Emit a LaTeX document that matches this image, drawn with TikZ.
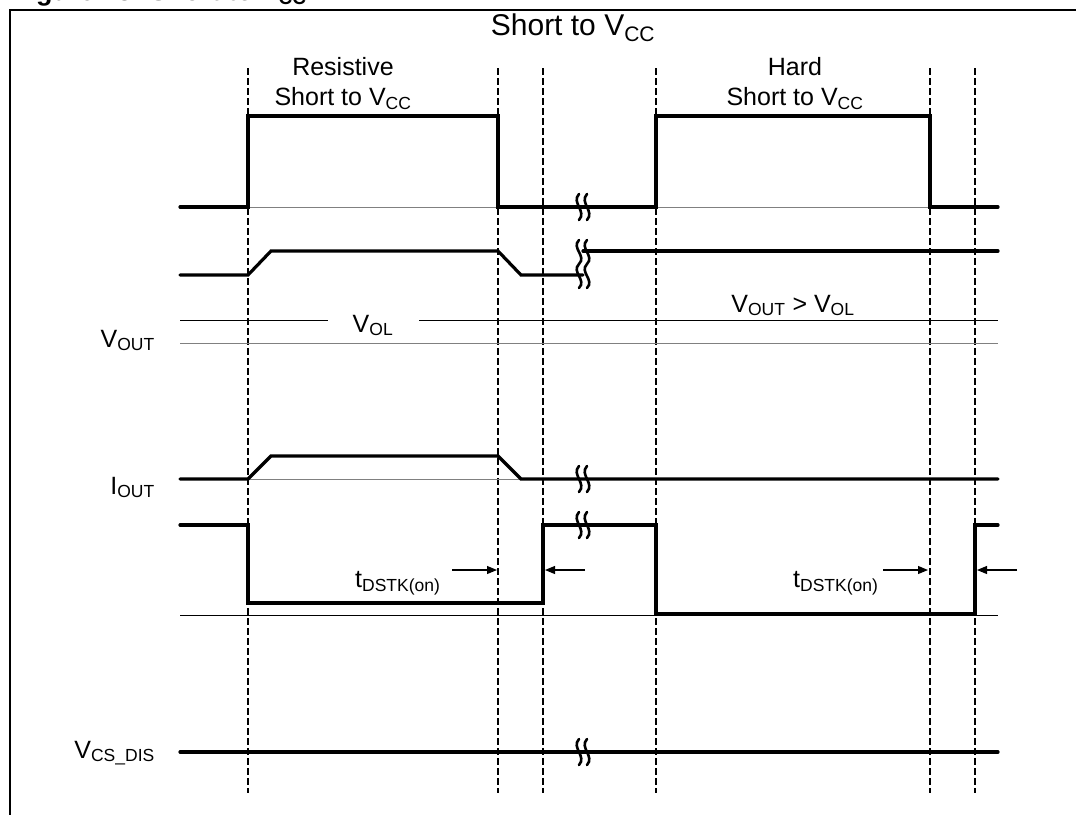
\documentclass[tikz,border=0pt]{standalone}
\usepackage{fontspec}
\setmainfont{Liberation Sans}
\usetikzlibrary{arrows.meta}

\newcommand*{\xMin}{180}
\newcommand*{\xMax}{998}
\newcommand*{\xBrk}{583}
\newcommand*{\yMin}{68}
\newcommand*{\yMax}{793}

% two little s-curves: x, y, half height
\newcommand*{\wavebreak}[3]{%
    \foreach \k in {-4,4} {
        \draw [brk] (#1+\k,#2-#3) .. controls (#1+\k-8,#2-#3/3) and (#1+\k+8,#2+#3/3) .. (#1+\k,#2+#3) ;
    }
}

\begin{document}
\begin{tikzpicture}[x=1pt,y=-1pt,
    sig/.style={line width=3.2pt,line cap=round,line join=miter},
    zeroline/.style={line width=0.9pt,gray},
    refline/.style={line width=1pt},
    tline/.style={line width=1.6pt,dash pattern=on 7pt off 3pt},
    brk/.style={line width=2.6pt,line cap=round},
    tarrow/.style={line width=1.1pt,-{Triangle[length=10pt,width=8pt]}},
    lbl/.style={font=\fontsize{25}{30}\selectfont,inner sep=0pt},
    ttl/.style={font=\fontsize{30}{36}\selectfont,inner sep=0pt}]

    \useasboundingbox (0,0) rectangle (1076,814);

    % frame and the cut caption
    \draw [line width=2.4pt] (10,830) -- (10,10) -- (1090,10) ;
    \node [anchor=base west,inner sep=0pt,font=\bfseries\fontsize{27}{32}\selectfont] (caption) at (12,0) {Figure 13. Short to V\textsubscript{CC}};

    % dashed time marks
    \foreach \x in {248,498,543,656,930,975} {
        \draw [tline] (\x,\yMin) -- (\x,\yMax) ;
    }

    \node [ttl,anchor=base] (title) at (573,35) {Short to V\textsubscript{CC}};
    \node [lbl,anchor=north,align=center] (resistive) at (343,57) {Resistive\\Short to V\textsubscript{CC}};
    \node [lbl,anchor=north,align=center] (hard) at (795,57) {Hard\\Short to V\textsubscript{CC}};

    \node [lbl,anchor=base east] (vout) at (155,347) {V\textsubscript{OUT}};
    \node [lbl,anchor=base east] (iout) at (155,494) {I\textsubscript{OUT}};
    \node [lbl,anchor=base east] (vcsdis) at (155,758) {V\textsubscript{CS\_DIS}};

    % top trace
    \draw [zeroline] (248,207) -- (498,207) (656,207) -- (930,207) ;
    \draw [sig] (\xMin,207) -- (248,207) -- (248,116) -- (498,116) -- (498,207) -- (656,207) -- (656,116) -- (930,116) -- (930,207) -- (\xMax,207) ;
    \wavebreak{\xBrk}{207}{13}

    % second trace
    \draw [sig] (\xMin,275) -- (248,275) -- (271,251) -- (498,251) -- (521,275) -- (\xBrk,275) ;
    \draw [sig] (\xBrk,251) -- (\xMax,251) ;
    \wavebreak{\xBrk}{252}{12}
    \wavebreak{\xBrk}{276}{12}

    % V_OL level
    \node [lbl,anchor=base] (vol) at (373,332) {V\textsubscript{OL}};
    \draw [refline] (\xMin,320) -- (328,320) (419,320) -- (\xMax,320) ;
    \node [lbl,anchor=base] (voutgt) at (793,312) {V\textsubscript{OUT} > V\textsubscript{OL}};
    \draw [zeroline] (\xMin,343) -- (\xMax,343) ;

    % I_OUT
    \draw [zeroline] (248,479) -- (521,479) ;
    \draw [sig] (\xMin,479) -- (248,479) -- (271,456) -- (498,456) -- (521,479) -- (\xMax,479) ;
    \wavebreak{\xBrk}{479}{13}

    % lower trace
    \draw [refline] (\xMin,615) -- (\xMax,615) ;
    \draw [sig] (\xMin,525) -- (248,525) -- (248,603) -- (543,603) -- (543,525) -- (656,525) -- (656,614) -- (975,614) -- (975,525) -- (\xMax,525) ;
    \wavebreak{\xBrk}{525}{13}

    \node [lbl,anchor=base west] (tdstkA) at (355,587) {t\textsubscript{DSTK(on)}};
    \draw [tarrow] (452,570) -- (497,570) ;
    \draw [tarrow] (585,570) -- (545,570) ;
    \node [lbl,anchor=base west] (tdstkB) at (793,587) {t\textsubscript{DSTK(on)}};
    \draw [tarrow] (883,570) -- (928,570) ;
    \draw [tarrow] (1017,570) -- (977,570) ;

    % V_CS_DIS
    \draw [sig] (\xMin,752) -- (\xMax,752) ;
    \wavebreak{\xBrk}{752}{13}

\end{tikzpicture}
\end{document}
